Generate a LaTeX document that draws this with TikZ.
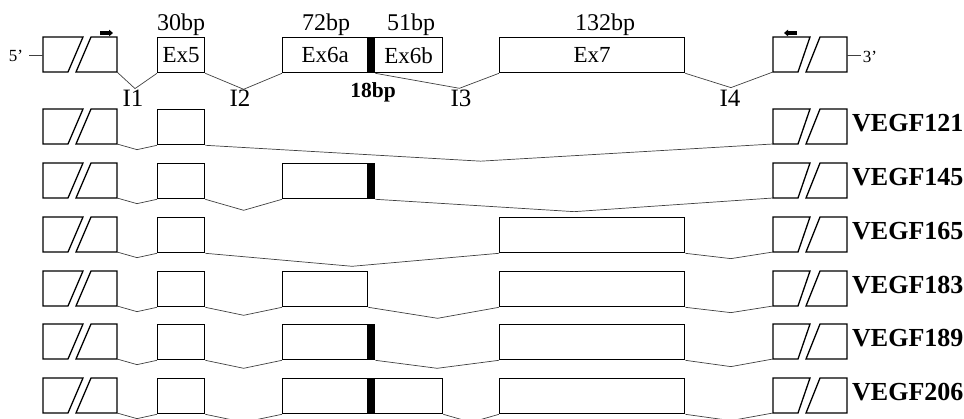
\documentclass[tikz,border=0pt]{standalone}
\usepackage{fontspec}
\setmainfont{Liberation Serif}
\usetikzlibrary{calc,arrows.meta}

\tikzset{
  exbox/.style={draw, line width=1.3pt, rectangle, inner sep=0pt,
    minimum height=35pt, anchor=north west,
    font=\fontsize{23}{25}\selectfont},
  exbar/.style={draw, fill=black, line width=1.3pt, rectangle, inner sep=0pt,
    minimum width=7pt, minimum height=35pt, anchor=north west},
  utr/.style={draw, line width=1.3pt, line join=miter},
  intron/.style={draw=black!75, line width=0.7pt},
  endline/.style={draw=black!75, line width=0.8pt},
  sizelab/.style={inner sep=0pt, anchor=base, font=\fontsize{24}{26}\selectfont},
  intronlab/.style={inner sep=0pt, anchor=base, font=\fontsize{25}{27}\selectfont},
  primelab/.style={inner sep=0pt, anchor=base, font=\fontsize{17}{19}\selectfont},
  isolab/.style={inner sep=0pt, anchor=base west, font=\fontsize{26}{28}\selectfont\bfseries},
  primer/.style={line width=3.6pt, -{Triangle[length=4pt,width=6.5pt]}},
}

% both untranslated end pieces of one row, with the points where introns attach
\newcommand\utrpair[2]{%
  \draw[utr] (43,#2) -- (83,#2) -- (68,#2+35) -- (43,#2+35) -- cycle;
  \draw[utr] (91,#2) -- (117,#2) -- (117,#2+35) -- (76,#2+35) -- cycle;
  \draw[utr] (773,#2) -- (810,#2) -- (798,#2+35) -- (773,#2+35) -- cycle;
  \draw[utr] (820,#2) -- (847,#2) -- (847,#2+35) -- (806,#2+35) -- cycle;
  \coordinate (#1-l) at (117,#2+35);
  \coordinate (#1-r) at (773,#2+35);
}
% spliced-out intron: a bent line from one exon to the next
\newcommand\splice[4]{%
  \draw[intron] (#1) -- ($(#1)!#3!(#2)+(0,#4)$) -- (#2);
}

\begin{document}
\begin{tikzpicture}[x=1pt, y=-1pt]
\useasboundingbox (0,0) rectangle (964,419);
\clip (0,0) rectangle (964,419);

% ---------------- gene structure ----------------
\utrpair{g}{37}
\node[exbox, minimum width=47pt]  (g-e5)  at (157,37) {Ex5};
\node[exbox, minimum width=85pt]  (g-e6a) at (282,37) {Ex6a};
\node[exbar]                      (g-bar) at (367,37) {};
\node[exbox, minimum width=68pt]  (g-e6b) at (374,37) {Ex6b};
\node[exbox, minimum width=185pt] (g-e7)  at (499,37) {Ex7};

\coordinate (g-5a) at (29,55);  \coordinate (g-5b) at (43,55);
\coordinate (g-3a) at (847,55); \coordinate (g-3b) at (861,55);
\draw[endline] (g-5a) -- (g-5b);
\draw[endline] (g-3a) -- (g-3b);
\node[primelab] (p5) at (16,62) {5’};
\node[primelab] (p3) at (870,63) {3’};

\coordinate (fw-a) at (100,33); \coordinate (fw-b) at (113,33);
\coordinate (rv-a) at (797,33); \coordinate (rv-b) at (784,33);
\draw[primer] (fw-a) -- (fw-b);
\draw[primer] (rv-a) -- (rv-b);

\node[sizelab] (s5)  at (181,31) {30bp};
\node[sizelab] (s6a) at (326,31) {72bp};
\node[sizelab] (s6b) at (411,31) {51bp};
\node[sizelab] (s7)  at (605,31) {132bp};
\node[sizelab, font=\fontsize{21.5}{23}\selectfont\bfseries] (s18) at (373,98) {18bp};

\splice{g-l}{g-e5.south west}{0.45}{16}
\splice{g-e5.south east}{g-e6a.south west}{0.5}{16}
\splice{g-bar.south east}{g-e7.south west}{0.68}{15}
\splice{g-e7.south east}{g-r}{0.52}{15}

\node[intronlab] (i1) at (133,107) {I1};
\node[intronlab] (i2) at (240,107) {I2};
\node[intronlab] (i3) at (461,107) {I3};
\node[intronlab] (i4) at (730,107) {I4};

% ---------------- VEGF121 ----------------
\utrpair{a}{109}
\node[exbox, minimum width=47pt] (a-e5) at (157,109) {};
\splice{a-l}{a-e5.south west}{0.5}{5}
\splice{a-e5.south east}{a-r}{0.485}{16.5}
\node[isolab] (n121) at (852,132) {VEGF121};

% ---------------- VEGF145 ----------------
\utrpair{b}{163}
\node[exbox, minimum width=47pt] (b-e5)  at (157,163) {};
\node[exbox, minimum width=85pt] (b-e6a) at (282,163) {};
\node[exbar]                     (b-bar) at (367,163) {};
\splice{b-l}{b-e5.south west}{0.5}{5}
\splice{b-e5.south east}{b-e6a.south west}{0.5}{11}
\splice{b-bar.south east}{b-r}{0.5}{13}
\node[isolab] (n145) at (852,186) {VEGF145};

% ---------------- VEGF165 ----------------
\utrpair{c}{217}
\node[exbox, minimum width=47pt]  (c-e5) at (157,217) {};
\node[exbox, minimum width=185pt] (c-e7) at (499,217) {};
\splice{c-l}{c-e5.south west}{0.5}{5}
\splice{c-e5.south east}{c-e7.south west}{0.5}{13}
\splice{c-e7.south east}{c-r}{0.52}{6}
\node[isolab] (n165) at (852,240) {VEGF165};

% ---------------- VEGF183 ----------------
\utrpair{d}{271}
\node[exbox, minimum width=47pt]  (d-e5)  at (157,271) {};
\node[exbox, minimum width=85pt]  (d-e6a) at (282,271) {};
\node[exbox, minimum width=185pt] (d-e7)  at (499,271) {};
\splice{d-l}{d-e5.south west}{0.5}{5}
\splice{d-e5.south east}{d-e6a.south west}{0.5}{8}
\splice{d-e6a.south east}{d-e7.south west}{0.53}{11}
\splice{d-e7.south east}{d-r}{0.52}{6}
\node[isolab] (n183) at (852,294) {VEGF183};

% ---------------- VEGF189 ----------------
\utrpair{e}{324}
\node[exbox, minimum width=47pt]  (e-e5)  at (157,324) {};
\node[exbox, minimum width=85pt]  (e-e6a) at (282,324) {};
\node[exbar]                      (e-bar) at (367,324) {};
\node[exbox, minimum width=185pt] (e-e7)  at (499,324) {};
\splice{e-l}{e-e5.south west}{0.5}{5}
\splice{e-e5.south east}{e-e6a.south west}{0.5}{8}
\splice{e-bar.south east}{e-e7.south west}{0.5}{8}
\splice{e-e7.south east}{e-r}{0.52}{7}
\node[isolab] (n189) at (852,347) {VEGF189};

% ---------------- VEGF206 ----------------
\utrpair{f}{378}
\node[exbox, minimum width=47pt]  (f-e5)  at (157,378) {};
\node[exbox, minimum width=85pt]  (f-e6a) at (282,378) {};
\node[exbar]                      (f-bar) at (367,378) {};
\node[exbox, minimum width=68pt]  (f-e6b) at (374,378) {};
\node[exbox, minimum width=185pt] (f-e7)  at (499,378) {};
\splice{f-l}{f-e5.south west}{0.5}{5}
\splice{f-e5.south east}{f-e6a.south west}{0.5}{8}
\splice{f-e6b.south east}{f-e7.south west}{0.5}{8}
\splice{f-e7.south east}{f-r}{0.52}{7}
\node[isolab] (n206) at (852,401) {VEGF206};

\end{tikzpicture}
\end{document}
